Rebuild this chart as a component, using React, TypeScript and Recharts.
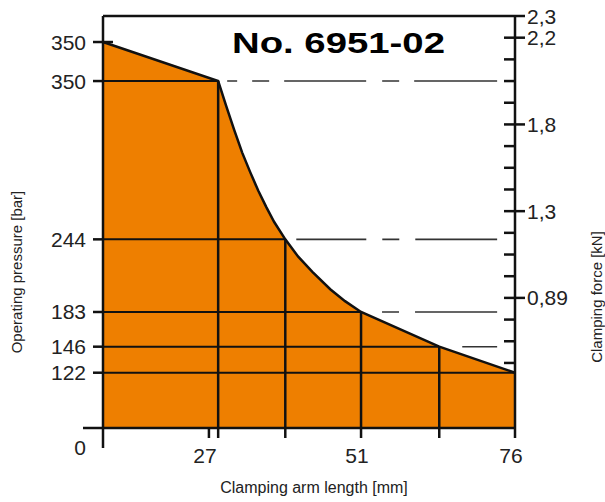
import React from 'react';
import { ComposedChart, Area, XAxis, YAxis, ReferenceLine, Customized } from 'recharts';

// clamping arm length [mm] along the curve
const armLength = [9.1, 27.8, 29.1, 30.4, 31.7, 33, 34.3, 35.6, 36.9, 38.7, 40.8, 43.1, 46, 48.4, 51, 63.7, 76];
// height of the curve, in divisions of the right-hand (force) scale
const curveLevel = [17.8, 16, 14.85, 13.75, 12.7, 11.8, 10.95, 10.2, 9.5, 8.7, 7.9, 7.2, 6.4, 5.85, 5.35, 3.75, 2.55];

// operating pressure marks on the left axis
const pressureLabels = ['350', '350', '244', '183', '146', '122'];
const pressureArm = [9.1, 27.8, 38.7, 51, 63.7, 76];
const pressureLevel = [17.8, 16, 8.7, 5.35, 3.75, 2.55];

// clamping force scale on the right (one tick per division)
const forceTicks = [19, 18, 17, 16, 15, 14, 13, 12, 11, 10, 9, 8, 7, 6, 5, 4, 3];
const forceLabels: Record<number, string> = { 19: '2,3', 18: '2,2', 14: '1,8', 10: '1,3', 6: '0,89' };

// arm length ticks
const armTicks = [26.3, 27.8, 38.7, 51, 63.7, 76];
const armLabels: Record<number, string> = { 26.3: '27', 51: '51', 76: '76' };

// dashed guides to the right of the curve for 350, 244, 183, 146
const guideDashes = ['0 9 10 15 17 15 82 16 17 15 83', '0 11 70 16 17 16 83', '0 21 17 16 82', '0 23 35'];
const guideEnd = 73.1;

const data = armLength.map((a, i) => ({ arm: a, level: curveLevel[i] }));

const FONT = '"Liberation Sans", Arial, Helvetica, sans-serif';
const INK = '#111';
const ORANGE = '#EE7F00';

const LeftTick = (props: any) => {
  const { x, y, payload } = props;
  const v = payload.value;
  if (v === 0) {
    return (
      <g>
        <line x1={x - 20} y1={y} x2={x} y2={y} stroke={INK} strokeWidth={2.5} />
        <line x1={x} y1={y} x2={x} y2={y + 20} stroke={INK} strokeWidth={2.5} />
        <text x={x - 23} y={y + 27} textAnchor="middle" fontSize={21} fill="#222" fontFamily={FONT}>0</text>
      </g>
    );
  }
  const i = pressureLevel.indexOf(v);
  return (
    <g>
      <line x1={x - 10} y1={y} x2={i === 0 ? x + 10 : x} y2={y} stroke={INK} strokeWidth={2.5} />
      <text x={x - 17} y={y + 7.5} textAnchor="end" fontSize={21} fill="#222" fontFamily={FONT}>
        {pressureLabels[i]}
      </text>
    </g>
  );
};

const RightTick = (props: any) => {
  const { x, y, payload } = props;
  const label = forceLabels[payload.value];
  const top = payload.value === 19;
  return (
    <g>
      <line x1={top ? x : x - 11} y1={y} x2={label ? x + 10 : x} y2={y} stroke={INK} strokeWidth={2.5} />
      {label && (
        <text x={x + 12} y={y + 7.5} textAnchor="start" fontSize={21} fill="#222" fontFamily={FONT}>
          {label}
        </text>
      )}
    </g>
  );
};

const BottomTick = (props: any) => {
  const { x, y, payload } = props;
  const label = armLabels[payload.value];
  return (
    <g>
      <line x1={x} y1={y} x2={x} y2={y + 10} stroke={INK} strokeWidth={2.5} />
      {label && (
        <text x={x - 4} y={y + 35} textAnchor="middle" fontSize={21} fill="#222" fontFamily={FONT}>
          {label}
        </text>
      )}
    </g>
  );
};

const Titles = () => (
  <g fontFamily={FONT} fill="#222">
    <text x={232} y={53} fontSize={29} fontWeight={900} fill="#000" textLength={213} lengthAdjust="spacingAndGlyphs">
      No. 6951-02
    </text>
    <text x={314} y={493} fontSize={16} textAnchor="middle">Clamping arm length [mm]</text>
    <text x={0} y={0} fontSize={15} textAnchor="middle" transform="translate(22 272) rotate(-90)">
      Operating pressure [bar]
    </text>
    <text x={0} y={0} fontSize={15} textAnchor="middle" transform="translate(602 297) rotate(-90)">
      Clamping force [kN]
    </text>
  </g>
);

export default function App() {
  return (
    <div style={{ width: 605, height: 502, background: '#fff' }}>
      <style>{'body{margin:0}'}</style>
      <ComposedChart width={605} height={502} data={data} margin={{ top: 16, right: 0, bottom: 0, left: 0 }}>
        <XAxis
          dataKey="arm"
          type="number"
          domain={[9.1, 76]}
          ticks={armTicks}
          interval={0}
          height={74}
          tickSize={0}
          tickMargin={0}
          tickLine={false}
          axisLine={{ stroke: INK, strokeWidth: 2.5 }}
          tick={(p: any) => <BottomTick {...p} />}
        />
        <YAxis
          yAxisId="l"
          type="number"
          domain={[0, 19]}
          ticks={[0, ...pressureLevel]}
          interval={0}
          width={103}
          tickSize={0}
          tickMargin={0}
          tickLine={false}
          axisLine={{ stroke: INK, strokeWidth: 2.5 }}
          tick={(p: any) => <LeftTick {...p} />}
        />
        <YAxis
          yAxisId="r"
          orientation="right"
          type="number"
          domain={[0, 19]}
          ticks={forceTicks}
          interval={0}
          width={90}
          tickSize={0}
          tickMargin={0}
          tickLine={false}
          axisLine={{ stroke: INK, strokeWidth: 2.5 }}
          tick={(p: any) => <RightTick {...p} />}
        />
        <Area
          yAxisId="l"
          type="linear"
          dataKey="level"
          stroke={INK}
          strokeWidth={2.5}
          fill={ORANGE}
          fillOpacity={1}
          isAnimationActive={false}
        />
        {/* same curve on the force axis, invisible, so that axis gets its ticks */}
        <Area
          yAxisId="r"
          type="linear"
          dataKey="level"
          stroke="none"
          fill="none"
          fillOpacity={0}
          activeDot={false}
          isAnimationActive={false}
        />
        <ReferenceLine yAxisId="l" y={19} stroke={INK} strokeWidth={2.5} />
        {pressureArm.slice(1).map((a, j) => (
          <ReferenceLine
            key={'h' + j}
            yAxisId="l"
            segment={[{ x: pressureArm[0], y: pressureLevel[j + 1] }, { x: a, y: pressureLevel[j + 1] }]}
            stroke={INK}
            strokeWidth={2}
          />
        ))}
        {pressureArm.slice(1, 5).map((a, j) => (
          <ReferenceLine
            key={'v' + j}
            yAxisId="l"
            segment={[{ x: a, y: 0 }, { x: a, y: pressureLevel[j + 1] }]}
            stroke={INK}
            strokeWidth={2.5}
          />
        ))}
        {pressureArm.slice(1, 5).map((a, j) => (
          <ReferenceLine
            key={'d' + j}
            yAxisId="l"
            segment={[{ x: a, y: pressureLevel[j + 1] }, { x: guideEnd, y: pressureLevel[j + 1] }]}
            stroke="#333"
            strokeWidth={1.6}
            strokeDasharray={guideDashes[j]}
          />
        ))}
        <Customized component={Titles} />
      </ComposedChart>
    </div>
  );
}
